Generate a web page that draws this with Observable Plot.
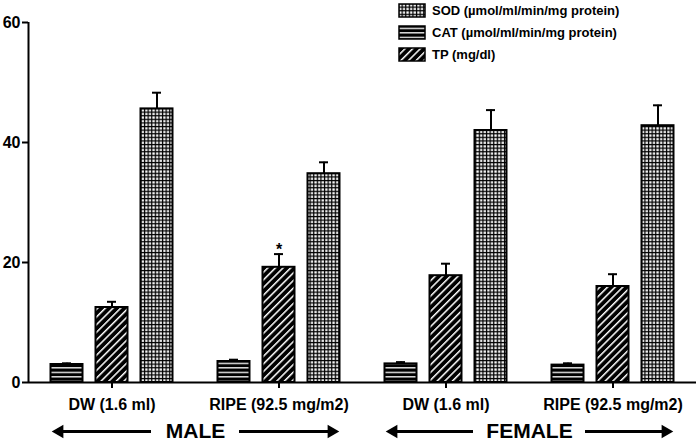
<!DOCTYPE html>
<html>
<head>
<meta charset="utf-8">
<script src="https://cdn.jsdelivr.net/npm/d3@7"></script>
<script src="https://cdn.jsdelivr.net/npm/@observablehq/plot@0.6"></script>
<style>
  body { margin: 0; background: #fff; }
  #chart { position: relative; width: 696px; height: 441px; font-family: "Liberation Sans", Arial, sans-serif; color: #000; }
  #legend { position: absolute; left: 398px; top: -1px; }
  .row { display: flex; align-items: center; height: 22px; }
  .row svg { margin-right: 6px; display: block; }
  .row span { font-size: 13px; font-weight: bold; white-space: nowrap; }
</style>
</head>
<body>
<svg width="0" height="0" style="position:absolute">
  <defs>
    <pattern id="pat-CAT" patternUnits="userSpaceOnUse" width="6" height="4.5">
      <rect width="6" height="4.5" fill="#000"/>
      <rect y="2.7" width="6" height="1.3" fill="#fff"/>
    </pattern>
    <pattern id="pat-TP" patternUnits="userSpaceOnUse" width="5.4" height="10" patternTransform="rotate(45)">
      <rect width="5.4" height="10" fill="#000"/>
      <rect x="0" width="1.5" height="10" fill="#fff"/>
    </pattern>
    <pattern id="pat-SOD" patternUnits="userSpaceOnUse" width="3.6" height="3.6">
      <rect width="3.6" height="3.6" fill="#000"/>
      <rect x="1.2" y="1.2" width="2.3" height="2.3" fill="#fff"/>
    </pattern>
  </defs>
</svg>
<div id="chart"><div id="legend"></div></div>
<script>
// ---- data ----
const groups = ["DW (1.6 ml)", "RIPE (92.5 mg/m2)", "DW (1.6 ml)", "RIPE (92.5 mg/m2)"];
const sexes = ["MALE", "FEMALE"];
const measures = ["CAT", "TP", "SOD"];
const legendOrder = ["SOD", "CAT", "TP"];
const legendLabels = ["SOD (µmol/ml/min/mg protein)", "CAT (µmol/ml/min/mg protein)", "TP (mg/dl)"];
const CAT = [3.0, 3.5, 3.1, 2.9];
const CAT_err = [0.2, 0.3, 0.3, 0.3];
const TP = [12.5, 19.2, 17.8, 16.0];
const TP_err = [0.95, 2.2, 2.0, 2.05];
const SOD = [45.6, 34.8, 42.0, 42.8];
const SOD_err = [2.7, 1.9, 3.4, 3.4];
const significant = [{group: 1, measure: "TP", mark: "*"}];
const yTicks = [0, 20, 40, 60];

// ---- layout helpers (scale units) ----
const xDomain = [-0.5, groups.length - 0.5];
const pxPerUnit = (696 - 28) / groups.length;
const step = 45 / pxPerUnit;      // spacing between bars inside a group
const half = 16 / pxPerUnit;      // half bar width
const cap = 4.5 / pxPerUnit;      // half error-cap width

const values = {CAT, TP, SOD};
const errs = {CAT: CAT_err, TP: TP_err, SOD: SOD_err};
const rows = groups.flatMap((g, gi) => measures.map((m, mi) => ({
  gi, mi, measure: m, value: values[m][gi], err: errs[m][gi]
})));
const pos = d => d.gi + (d.mi - 1) * step;
const stars = significant.map(s => {
  const r = rows.find(d => d.gi === s.group && d.measure === s.measure);
  return {...r, mark: s.mark};
});
const arrows = sexes.flatMap((s, i) => {
  const c = 2 * i + 0.5;
  const inner = (6 * s.length + 20) / pxPerUnit;
  const outer = 140 / pxPerUnit;
  return [{from: c - inner, to: c - outer, dir: -1}, {from: c + inner, to: c + outer, dir: 1}];
});

const plot = Plot.plot({
  width: 696,
  height: 441,
  marginTop: 22,
  marginBottom: 59,
  marginLeft: 28,
  marginRight: 0,
  x: {domain: xDomain, axis: null},
  y: {domain: [0, 60], axis: null},
  style: {fontFamily: '"Liberation Sans", Arial, sans-serif', background: "white", color: "black", overflow: "visible"},
  marks: [
    ...measures.map(m => Plot.rectY(rows.filter(d => d.measure === m), {
      x1: d => pos(d) - half, x2: d => pos(d) + half, y1: 0, y2: "value",
      fill: `url(#pat-${m})`, stroke: "black", strokeWidth: 2
    })),
    Plot.ruleX(rows, {x: pos, y1: "value", y2: d => d.value + d.err, stroke: "black", strokeWidth: 2}),
    Plot.ruleY(rows, {x1: d => pos(d) - cap, x2: d => pos(d) + cap, y: d => d.value + d.err, stroke: "black", strokeWidth: 2}),
    Plot.text(stars, {x: pos, y: d => d.value + d.err, text: "mark", dy: -4, fontSize: 16, fontWeight: "bold", fill: "black"}),
    Plot.ruleY([0], {stroke: "black", strokeWidth: 2}),
    Plot.ruleX([xDomain[0]], {y1: 0, y2: 60, stroke: "black", strokeWidth: 2}),
    Plot.axisY({ticks: yTicks, label: null, tickSize: 6, tickPadding: 2, fontSize: 16, fontWeight: "bold", strokeWidth: 2, stroke: "black", fill: "black"}),
    Plot.axisX({ticks: groups.map((g, i) => i), label: null, tickFormat: i => groups[i], tickSize: 6, tickPadding: 10,
      fontSize: 16, fontWeight: "bold", strokeWidth: 2, stroke: "black", fill: "black"}),
    Plot.text(sexes, {x: (d, i) => 2 * i + 0.5, y: 0, dy: 49, text: d => d, fontSize: 21, fontWeight: "bold", fill: "black"}),
    Plot.ruleY(arrows, {x1: "from", x2: "to", y: 0, dy: 49, stroke: "black", strokeWidth: 3}),
    Plot.dot(arrows.filter(d => d.dir < 0), {x: "to", y: 0, dy: 49, dx: 4, symbol: "triangle", r: 5, rotate: -90, fill: "black"}),
    Plot.dot(arrows.filter(d => d.dir > 0), {x: "to", y: 0, dy: 49, dx: -4, symbol: "triangle", r: 5, rotate: 90, fill: "black"})
  ]
});
document.getElementById("chart").appendChild(plot);

// ---- legend ----
const legend = d3.select("#legend");
legendOrder.forEach((m, i) => {
  const row = legend.append("div").attr("class", "row");
  const sw = row.append("svg").attr("width", 28).attr("height", 15);
  sw.append("rect").attr("x", 1).attr("y", 1).attr("width", 26).attr("height", 13)
    .attr("fill", `url(#pat-${m})`).attr("stroke", "black").attr("stroke-width", 1.5);
  row.append("span").text(legendLabels[i]);
});
</script>
</body>
</html>
